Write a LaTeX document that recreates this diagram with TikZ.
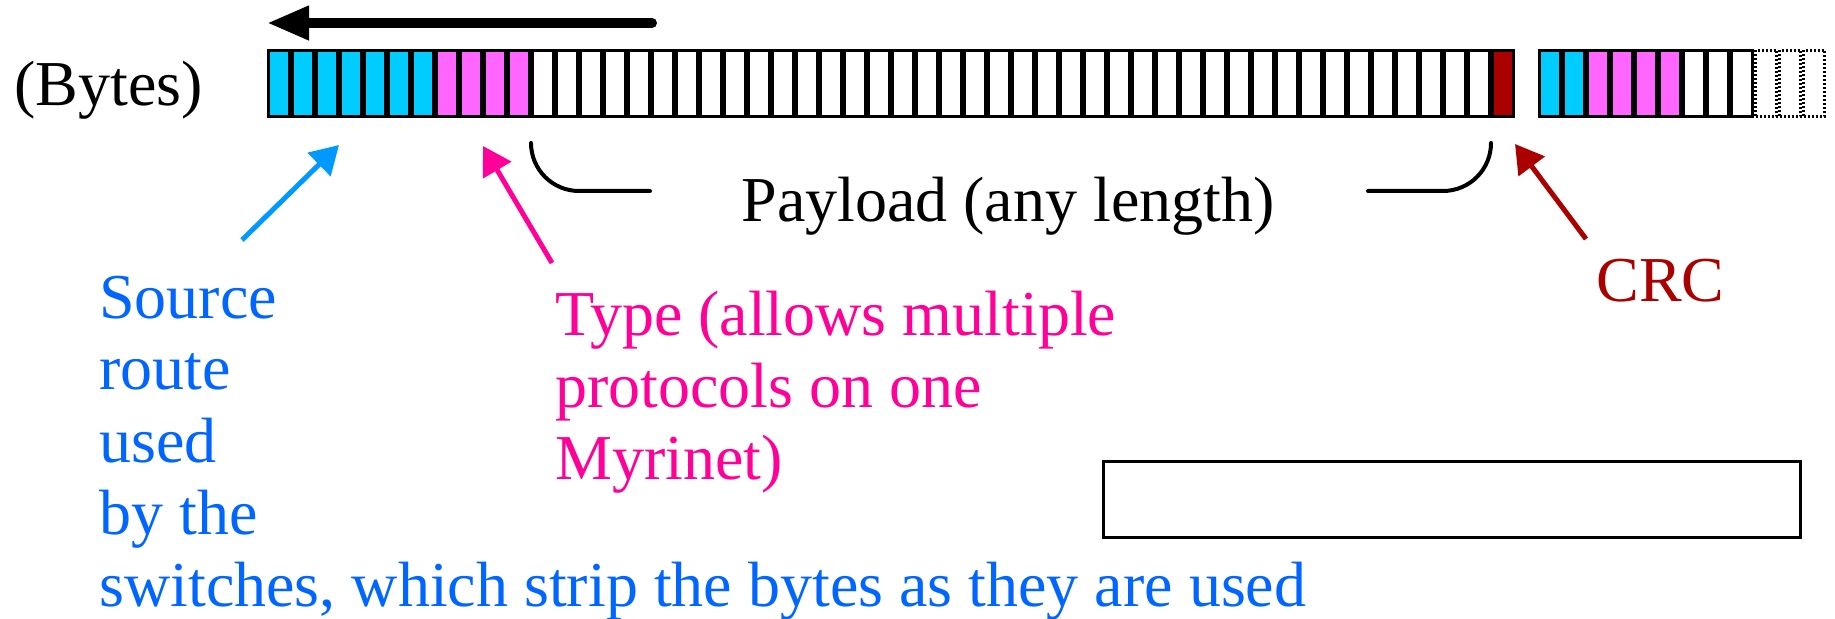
\documentclass[tikz,border=0pt]{standalone}
\usepackage{fontspec}
\setmainfont{Liberation Serif}
\usetikzlibrary{arrows.meta,calc}

\definecolor{routecyan}{HTML}{00CCFF}
\definecolor{typepink}{HTML}{FF66FF}
\definecolor{crcred}{HTML}{AA0000}
\definecolor{routetext}{HTML}{0066FF}
\definecolor{routearrow}{HTML}{0099FF}
\definecolor{typetext}{HTML}{FF0099}

\tikzset{
  cell/.style={draw=black,line width=1.5pt,inner sep=0pt,
    minimum width=10.5pt,minimum height=33pt},
  lbl/.style={font=\fontsize{32}{36}\selectfont,inner sep=0pt},
  pointer/.style={line width=2.5pt,-{Triangle[length=14pt,width=16pt]}},
  brace/.style={line width=2pt,line cap=round,rounded corners=24pt},
}

\begin{document}
\begin{tikzpicture}[x=0.5pt,y=-0.5pt]
\useasboundingbox (0,0) rectangle (1835,619);

% the packet, one cell per byte
\foreach \i in {0,...,51} {
  \ifnum\i<7 \def\bc{routecyan}\else
   \ifnum\i<11 \def\bc{typepink}\else
    \ifnum\i=51 \def\bc{crcred}\else \def\bc{white}\fi\fi\fi
  \node[cell,fill=\bc] (b\i) at (279+24*\i,83.5) {};
}
% the next packet
\foreach \i in {0,...,11} {
  \ifnum\i<2 \def\bc{routecyan}\else
   \ifnum\i<6 \def\bc{typepink}\else \def\bc{white}\fi\fi
  \ifnum\i<9
    \node[cell,fill=\bc] (n\i) at (1550+24*\i,83.5) {};
  \else
    \node[cell,dash pattern=on 1pt off 1pt] (n\i) at (1550+24*\i,83.5) {};
  \fi
}

\node[lbl,anchor=base west] (bytes) at (14,106) {(Bytes)};

% direction of travel
\coordinate (dirtail) at (652,23);
\coordinate (dirhead) at ($(b0.north west)+(0,-26)$);
\draw[line width=5pt,line cap=round,-{Triangle[length=21pt,width=16pt]}]
  (dirtail) -- (dirhead |- dirtail);

% payload
\node[lbl,anchor=base] (payload) at (1008,222) {Payload (any length)};
\coordinate (pl) at ($(b11.south west)+(0,25)$);
\coordinate (pr) at ($(b50.south east)+(0,25)$);
\draw[brace] (pl) |- (650,191);
\draw[brace] (1368,191) -| (pr);

% labels and pointers
\node[lbl,text=routetext,align=left,anchor=base west] (route) at (99,606)
  {Source\\route\\used\\by the\\switches, which strip the bytes as they are used};
\node[lbl,text=typetext,align=left,anchor=base west] (type) at (555,480)
  {Type (allows multiple\\protocols on one\\Myrinet)};
\node[lbl,text=crcred,anchor=base west] (crc) at (1596,302) {CRC};

\coordinate (routefoot) at (242,240);
\coordinate (typefoot) at (552,263);
\coordinate (crcfoot) at (1586,239);
\draw[pointer,routearrow] (routefoot) -- ($(b2.south east)+(0,27)$);
\draw[pointer,typetext] (typefoot) -- ($(b9.south west)+(0,28)$);
\draw[pointer,crcred] (crcfoot) -- ($(b51.south east)+(0,26)$);

\node[draw,line width=1.5pt,inner sep=0pt,minimum width=348.5pt,
  minimum height=38pt] (blank) at (1452,499.5) {};
\end{tikzpicture}
\end{document}
